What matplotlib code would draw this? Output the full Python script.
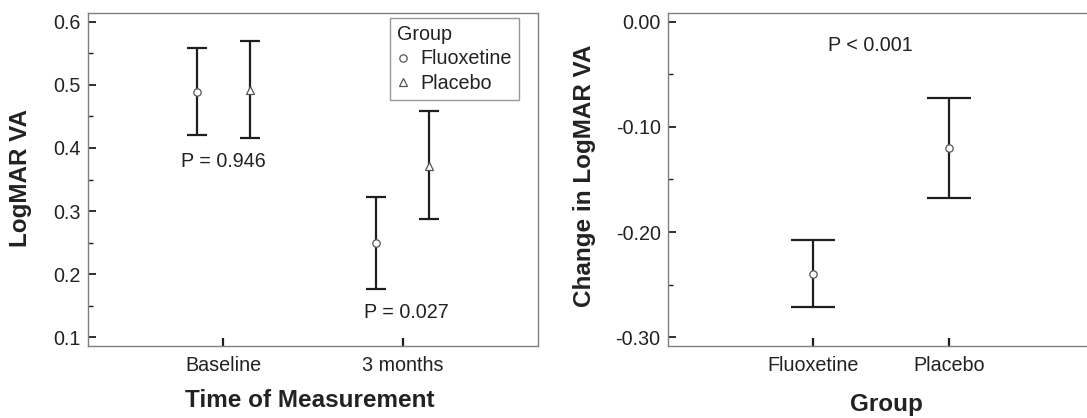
import matplotlib
matplotlib.use("Agg")
import matplotlib.pyplot as plt
from matplotlib.ticker import MultipleLocator, FormatStrFormatter

plt.rcParams['font.family'] = ['Liberation Sans', 'DejaVu Sans']

# ---- data: left panel ----
times = ["Baseline", "3 months"]
fluox_mean = [0.489, 0.250]
fluox_lo = [0.421, 0.177]
fluox_hi = [0.559, 0.323]
plac_mean = [0.492, 0.371]
plac_lo = [0.416, 0.288]
plac_hi = [0.569, 0.458]
p_left = ["P = 0.946", "P = 0.027"]

# ---- data: right panel ----
groups = ["Fluoxetine", "Placebo"]
chg_mean = [-0.240, -0.120]
chg_lo = [-0.2715, -0.168]
chg_hi = [-0.208, -0.0725]
p_right = "P < 0.001"

W, H = 1087, 418
fig = plt.figure(figsize=(W / 100, H / 100), dpi=100)

spine_c = "#7f7f7f"
bar_c = "#1e1e1e"
txt_c = "#222222"
fs = 14.2
lab_fs = 17.5

axL = fig.add_axes([88.3 / W, (H - 346) / H, (537.7 - 88.3) / W, (346 - 12.7) / H])
axR = fig.add_axes([668.3 / W, (H - 346) / H, (1093 - 668.3) / W, (346 - 12.7) / H])

off = 0.148
xs = list(range(len(times)))
xf = [x - off for x in xs]
xp = [x + off for x in xs]

def yerr(m, lo, hi):
    return [[mm - l for mm, l in zip(m, lo)], [h - mm for mm, h in zip(m, hi)]]

axL.errorbar(xf, fluox_mean, yerr=yerr(fluox_mean, fluox_lo, fluox_hi), fmt='none',
             ecolor=bar_c, elinewidth=1.6, capsize=7, capthick=1.6, zorder=2)
axL.errorbar(xp, plac_mean, yerr=yerr(plac_mean, plac_lo, plac_hi), fmt='none',
             ecolor=bar_c, elinewidth=1.6, capsize=7, capthick=1.6, zorder=2)
axL.plot(xf, fluox_mean, linestyle='none', marker='o', ms=5.3, mfc='white', mec='#555555',
         mew=0.9, zorder=3, label="Fluoxetine")
axL.plot(xp, plac_mean, linestyle='none', marker='^', ms=6.3, mfc='white', mec='#555555',
         mew=0.9, zorder=3, label="Placebo")

axL.set_xlim(-0.755, 1.755)
axL.set_ylim(0.0862, 0.6143)
axL.set_xticks(xs)
axL.set_xticklabels(times)
axL.yaxis.set_major_locator(MultipleLocator(0.1))
axL.yaxis.set_minor_locator(MultipleLocator(0.05))
axL.yaxis.set_major_formatter(FormatStrFormatter('%.1f'))

axL.text(0.0, 0.378, p_left[0], ha='center', va='center', fontsize=fs, color=txt_c)
axL.text(1.02, 0.140, p_left[1], ha='center', va='center', fontsize=fs, color=txt_c)

leg = axL.legend(title="Group", loc='upper right', bbox_to_anchor=(0.958, 0.984),
                 fontsize=fs, title_fontsize=fs, frameon=True, fancybox=False,
                 edgecolor=spine_c, handlelength=0.6, handletextpad=0.6,
                 borderpad=0.35, borderaxespad=0.0, labelspacing=0.28,
                 alignment='left')
leg.get_frame().set_linewidth(1.0)
for t in leg.get_texts():
    t.set_color(txt_c)
leg.get_title().set_color(txt_c)

axL.set_ylabel("LogMAR VA", fontsize=lab_fs, fontweight='bold', color=txt_c)
axL.yaxis.set_label_coords(-0.125, 0.505)
axL.set_xlabel("Time of Measurement", fontsize=lab_fs, fontweight='bold', color=txt_c)
axL.xaxis.set_label_coords(0.493, -0.128)

# right panel
xr = [1, 2]
axR.errorbar(xr, chg_mean, yerr=yerr(chg_mean, chg_lo, chg_hi), fmt='none',
             ecolor=bar_c, elinewidth=1.6, capsize=15.5, capthick=1.6, zorder=2)
axR.plot(xr, chg_mean, linestyle='none', marker='o', ms=5.3, mfc='white', mec='#555555',
         mew=0.9, zorder=3)
axR.set_xlim(-0.062, 3.06)
axR.set_ylim(-0.3083, 0.00856)
axR.set_xticks(xr)
axR.set_xticklabels(groups)
axR.yaxis.set_major_locator(MultipleLocator(0.1))
axR.yaxis.set_minor_locator(MultipleLocator(0.05))
axR.yaxis.set_major_formatter(FormatStrFormatter('%.2f'))
axR.text(1.42, -0.023, p_right, ha='center', va='center', fontsize=fs, color=txt_c)
axR.set_ylabel("Change in LogMAR VA", fontsize=lab_fs, fontweight='bold', color=txt_c)
axR.yaxis.set_label_coords(-0.170, 0.51)
axR.set_xlabel("Group", fontsize=lab_fs, fontweight='bold', color=txt_c)
axR.xaxis.set_label_coords(0.513, -0.142)

for ax in (axL, axR):
    for s in ax.spines.values():
        s.set_color(spine_c)
        s.set_linewidth(1.0)
    ax.tick_params(axis='both', which='major', direction='in', labelsize=fs,
                   labelcolor=txt_c, color=bar_c)
    ax.tick_params(axis='x', which='major', length=6, width=1.6, pad=7,
                   top=False, bottom=True)
    ax.tick_params(axis='y', which='major', length=6, width=1.3, pad=5.5,
                   right=False, left=True)
    ax.tick_params(axis='y', which='minor', direction='in', length=3.5, width=1.0,
                   color=bar_c, right=False)
    ax.tick_params(axis='x', which='minor', bottom=False, top=False)

fig.savefig("out.png", dpi=100)
